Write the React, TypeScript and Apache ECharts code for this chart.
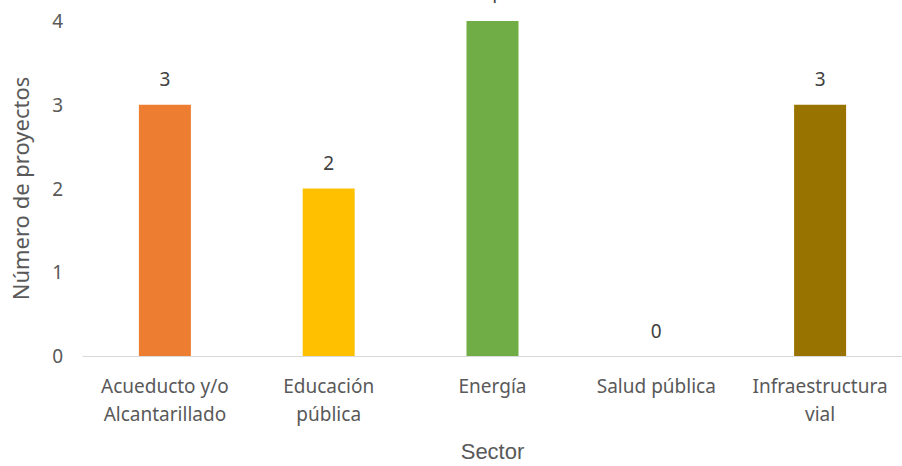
import React, { useEffect, useRef } from "react";
import * as echarts from "echarts";

const categories = [
  "Acueducto y/o\nAlcantarillado",
  "Educación\npública",
  "Energía",
  "Salud pública",
  "Infraestructura\nvial",
];
const values = [3, 2, 4, 0, 3];
const colors = ["#ED7D31", "#FFC000", "#70AD47", "#5B9BD5", "#997300"];
const yTicks = [0, 1, 2, 3, 4];

export default function App() {
  const ref = useRef<HTMLDivElement>(null);
  useEffect(() => {
    if (!ref.current) return;
    const chart = echarts.init(ref.current, undefined, { renderer: "svg" });
    const font = "'Noto Sans', 'Open Sans', sans-serif";
    chart.setOption({
      animation: false,
      grid: {
        left: 83,
        right: 0,
        top: 21,
        bottom: 110,
        containLabel: false,
        outerBoundsMode: "none",
      },
      xAxis: {
        type: "category",
        data: categories,
        name: "Sector",
        nameLocation: "middle",
        nameGap: 84,
        nameTextStyle: {
          fontFamily: "'Liberation Sans', Arial, sans-serif",
          fontSize: 22,
          color: "#595959",
        },
        axisLine: { lineStyle: { color: "#D9D9D9", width: 1 } },
        axisTick: { show: false },
        axisLabel: {
          interval: 0,
          margin: 16,
          fontFamily: font,
          fontSize: 19,
          lineHeight: 28,
          color: "#595959",
        },
      },
      yAxis: {
        type: "value",
        min: 0,
        max: 4,
        interval: 1,
        name: "Número de proyectos",
        nameLocation: "middle",
        nameGap: 52,
        nameTextStyle: { fontFamily: font, fontSize: 22, color: "#595959" },
        splitLine: { show: false },
        axisLine: { show: false },
        axisTick: { show: false },
        axisLabel: {
          margin: 20,
          fontFamily: font,
          fontSize: 19,
          color: "#595959",
          formatter: (v: number) => (yTicks.includes(v) ? String(v) : ""),
        },
      },
      series: [
        {
          type: "bar",
          barWidth: 52,
          data: values.map((v, i) => ({ value: v, itemStyle: { color: colors[i] } })),
          label: {
            show: true,
            position: "top",
            distance: 16,
            fontFamily: font,
            fontSize: 19,
            color: "#404040",
          },
        },
      ],
    });
    return () => chart.dispose();
  }, []);
  return (
    <div
      ref={ref}
      style={{ position: "fixed", left: 0, top: 0, width: 902, height: 466, background: "#fff" }}
    />
  );
}
